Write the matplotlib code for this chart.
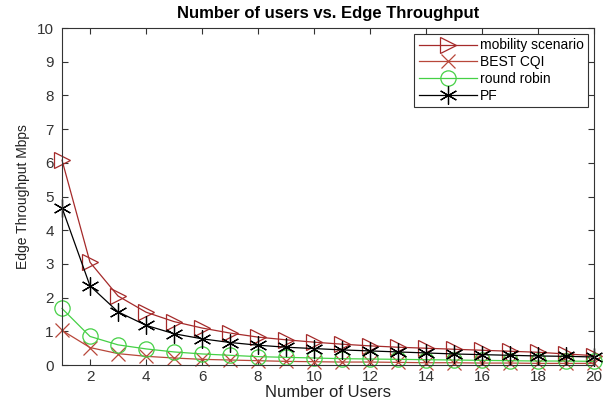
import matplotlib as mpl
mpl.use('Agg')
import matplotlib.pyplot as plt
import numpy as np

plt.rcParams['font.family'] = ['Liberation Sans', 'DejaVu Sans']
plt.rcParams['lines.linewidth'] = 0.9

users = np.arange(1, 21)
mobility = [6.08, 3.05, 2.05, 1.57, 1.29, 1.10, 0.95, 0.83, 0.75, 0.68,
            0.62, 0.57, 0.53, 0.50, 0.47, 0.44, 0.41, 0.38, 0.33, 0.28]
best_cqi = [1.03, 0.52, 0.34, 0.26, 0.21, 0.17, 0.15, 0.13, 0.11, 0.10,
            0.09, 0.09, 0.08, 0.07, 0.07, 0.06, 0.06, 0.05, 0.05, 0.05]
round_robin = [1.68, 0.85, 0.60, 0.48, 0.39, 0.33, 0.29, 0.25, 0.23, 0.21,
               0.19, 0.18, 0.17, 0.16, 0.15, 0.14, 0.13, 0.12, 0.12, 0.11]
pf = [4.67, 2.35, 1.58, 1.18, 0.93, 0.78, 0.67, 0.59, 0.53, 0.49,
      0.45, 0.42, 0.39, 0.36, 0.33, 0.31, 0.29, 0.27, 0.26, 0.24]

fig = plt.figure(figsize=(6.08, 4.07), dpi=100)
ax = fig.add_axes([0.102, 0.103, 0.875, 0.828])

# markers stay unclipped so the ones at x=1 hang over the axis edge
ax.plot(users, mobility, '->', color='#a52a2a', mfc='none', ms=12, mew=0.9,
        clip_on=False, label='mobility scenario')
ax.plot(users, best_cqi, '-x', color='#b8473a', ms=10, mew=0.9,
        clip_on=False, label='BEST CQI')
ax.plot(users, round_robin, '-o', color='#45d045', mfc='none', ms=11, mew=0.9,
        clip_on=False, label='round robin')
ax.plot(users, pf, '-', color='black', marker=(6, 2, 0), ms=13, mew=0.9,
        clip_on=False, label='PF')

ax.set_xlim(1, 20)
ax.set_ylim(0, 10)
ax.set_xticks(np.arange(2, 21, 2))
ax.set_yticks(np.arange(0, 11, 1))
ax.tick_params(direction='in', top=True, right=True, labelsize=11, length=4,
               colors='#333333')
ax.tick_params(axis='y', pad=6)
for s in ax.spines.values():
    s.set_linewidth(0.8)
    s.set_color('#333333')

ax.set_title('Number of users vs. Edge Throughput', fontsize=12, fontweight='bold', pad=7)
ax.set_xlabel('Number of Users', fontsize=12, labelpad=1, color='#222222')
ax.set_ylabel('Edge Throughput Mbps', fontsize=10, labelpad=5, color='#222222')

leg = ax.legend(loc='upper right', fontsize=10, fancybox=False, edgecolor='#333333',
                framealpha=1, borderaxespad=0.45, handlelength=4.2, labelspacing=0.2,
                handletextpad=0.2, borderpad=0.3)
leg.get_frame().set_linewidth(0.8)

plt.savefig('out.png', dpi=100)
